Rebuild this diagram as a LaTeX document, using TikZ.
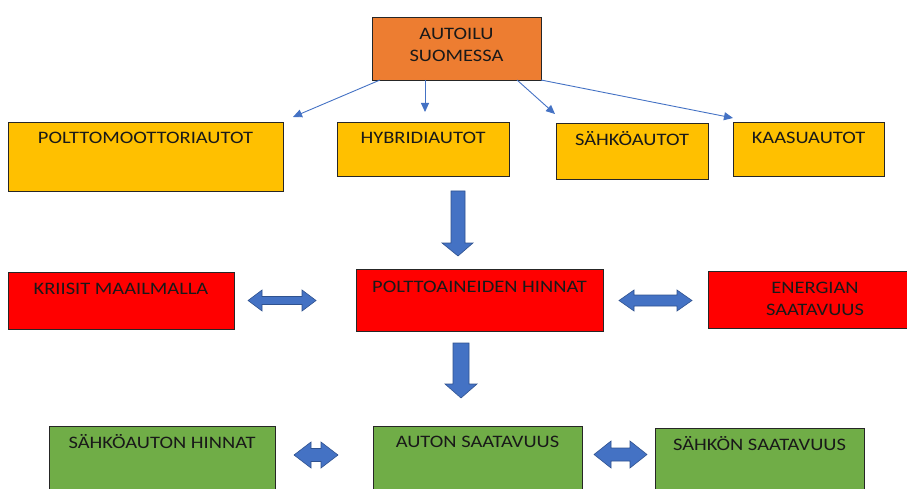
\documentclass[tikz,border=0pt]{standalone}
\usepackage{fontspec}
\setmainfont{Carlito}[FakeStretch=1.17]
\usetikzlibrary{arrows.meta}
\definecolor{orangeC}{HTML}{ED7D31}
\definecolor{yellowC}{HTML}{FFC000}
\definecolor{redC}{HTML}{FF0000}
\definecolor{greenC}{HTML}{70AD47}
\definecolor{blueC}{HTML}{4472C4}
\definecolor{blueEdge}{HTML}{2F528F}
\newcommand\twoway[6]{%
  \path[fat] (#1,{(#3+#4)/2}) -- ({#1+#6},#3) -- ({#1+#6},{(#3+#4)/2-#5})
    -- ({#2-#6},{(#3+#4)/2-#5}) -- ({#2-#6},#3) -- (#2,{(#3+#4)/2})
    -- ({#2-#6},#4) -- ({#2-#6},{(#3+#4)/2+#5}) -- ({#1+#6},{(#3+#4)/2+#5})
    -- ({#1+#6},#4) -- cycle;}
\begin{document}
\begin{tikzpicture}[x=1pt,y=-1pt,
  box/.style={draw=black!85, line width=0.9pt, anchor=north west, inner sep=0pt, outer sep=0pt},
  lbl/.style={anchor=base, inner sep=0pt, font=\fontsize{17.5}{22}\selectfont, align=center, text=black!90},
  thinarrow/.style={draw=blueC, line width=0.9pt, -{Triangle[length=9pt,width=8pt]}},
  fat/.style={fill=blueC, draw=blueEdge, line width=0.6pt, line join=miter}]
\useasboundingbox (0,0) rectangle (907,489);
\clip (0,0) rectangle (907,489);
% boxes
\node[box, fill=orangeC, minimum width=169pt, minimum height=63pt] (top) at (372,17) {};
\node[box, fill=yellowC, minimum width=275pt, minimum height=69pt] (pm) at (8,122) {};
\node[box, fill=yellowC, minimum width=172pt, minimum height=54pt] (hy) at (337,122) {};
\node[box, fill=yellowC, minimum width=152pt, minimum height=56pt] (sa) at (556,123) {};
\node[box, fill=yellowC, minimum width=151pt, minimum height=54pt] (ka) at (733,122) {};
\node[box, fill=redC, minimum width=226pt, minimum height=57pt] (kr) at (8,272) {};
\node[box, fill=redC, minimum width=247pt, minimum height=62pt] (po) at (356,269) {};
\node[box, fill=redC, minimum width=214pt, minimum height=57pt] (en) at (708,271) {};
\node[box, fill=greenC, minimum width=226pt, minimum height=74pt] (sh) at (49,426) {};
\node[box, fill=greenC, minimum width=209pt, minimum height=74pt] (as) at (373,426) {};
\node[box, fill=greenC, minimum width=209pt, minimum height=72pt] (ss) at (655,428) {};
% labels
\node[lbl] (topT) at ([yshift=-45pt]top.north) {AUTOILU\\SUOMESSA};
\node[lbl] (pmT) at ([yshift=-22pt]pm.north) {POLTTOMOOTTORIAUTOT};
\node[lbl] (hyT) at ([yshift=-22pt]hy.north) {HYBRIDIAUTOT};
\node[lbl] (saT) at ([yshift=-23pt]sa.north) {SÄHKÖAUTOT};
\node[lbl] (kaT) at ([yshift=-22pt]ka.north) {KAASUAUTOT};
\node[lbl] (krT) at ([yshift=-22pt]kr.north) {KRIISIT MAAILMALLA};
\node[lbl] (poT) at ([yshift=-23pt]po.north) {POLTTOAINEIDEN HINNAT};
\node[lbl] (enT) at ([yshift=-44pt]en.north) {ENERGIAN\\SAATAVUUS};
\node[lbl] (shT) at ([yshift=-22pt]sh.north) {SÄHKÖAUTON HINNAT};
\node[lbl] (asT) at ([yshift=-21pt]as.north) {AUTON SAATAVUUS};
\node[lbl] (ssT) at ([yshift=-22pt]ss.north) {SÄHKÖN SAATAVUUS};
% thin arrows from the top box
\coordinate (e1) at (293,117);
\coordinate (e2) at (425,112);
\coordinate (e3) at (555,114);
\coordinate (e4) at (733,118);
\draw[thinarrow] ([xshift=8pt]top.south west) -- (e1);
\draw[thinarrow] ([xshift=53pt]top.south west) -- (e2);
\draw[thinarrow] ([xshift=145pt]top.south west) -- (e3);
\draw[thinarrow] (top.south east) -- (e4);
% block arrows down
\path[fat] (451,191) -- (465,191) -- (465,243) -- (473,243) -- (458,256) -- (442,243) -- (451,243) -- cycle;
\path[fat] (453,343) -- (469,343) -- (469,384) -- (477,384) -- (461,398) -- (445,384) -- (453,384) -- cycle;
% double arrows
\twoway{248}{316}{290}{311}{4}{14}
\twoway{619}{692}{290}{311}{5.5}{15}
\twoway{294}{338}{442}{468}{6.5}{17}
\twoway{594}{647}{441}{468}{6.5}{17}
\end{tikzpicture}
\end{document}
